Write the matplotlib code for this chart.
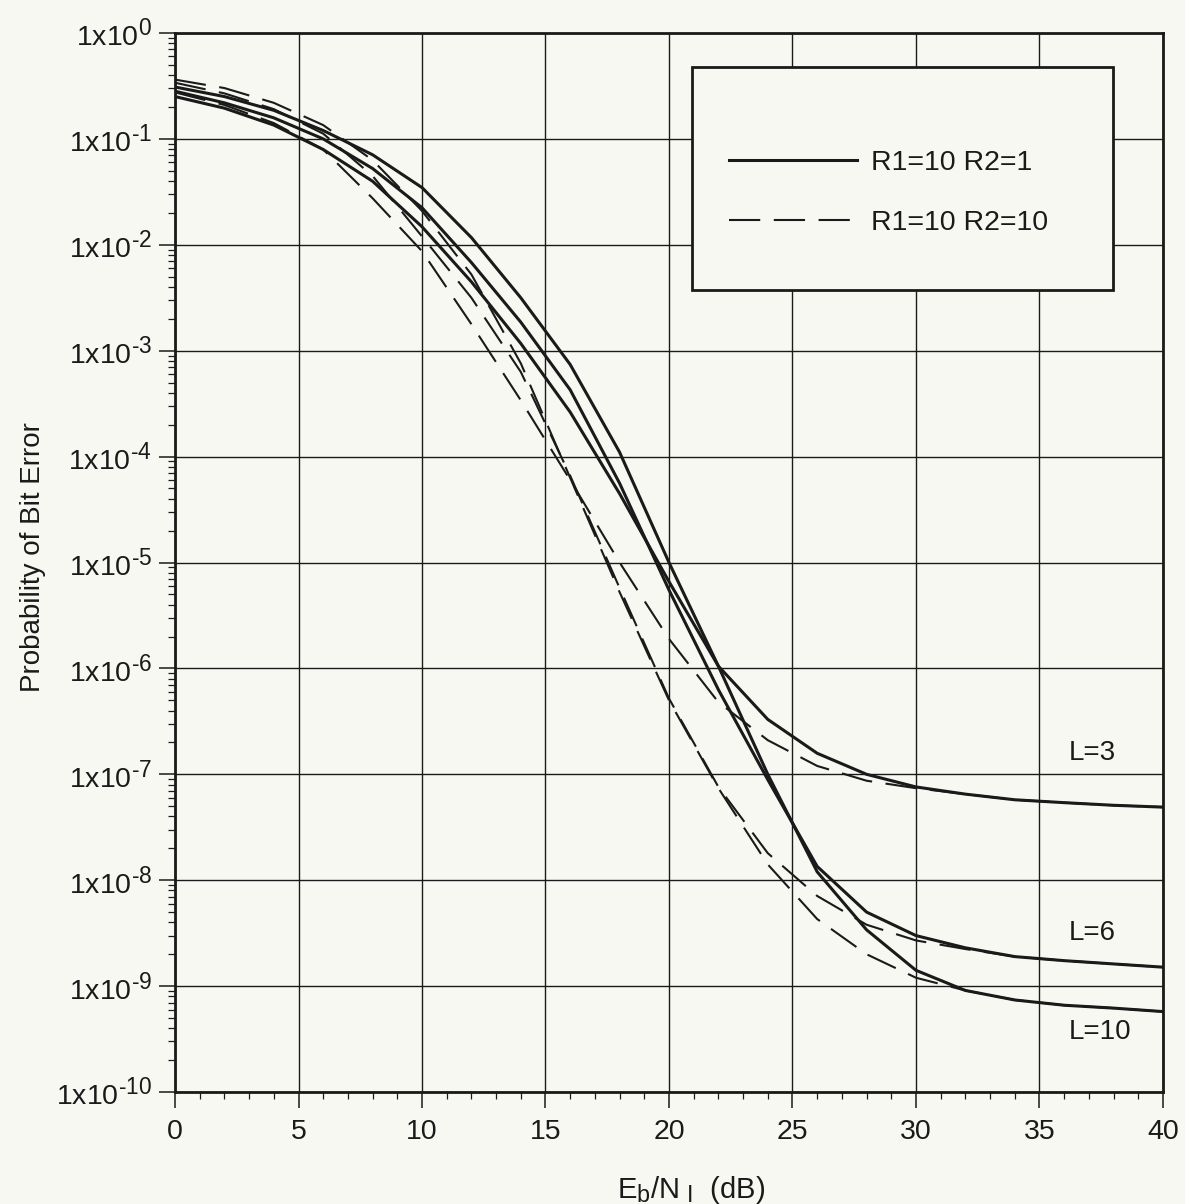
import matplotlib
matplotlib.use("Agg")
import matplotlib.pyplot as plt
import matplotlib._mathtext as mathtext_internals
from matplotlib.patches import Rectangle
from matplotlib.ticker import FixedLocator, LogLocator, NullFormatter, MultipleLocator

# superscripts in the original are only a little smaller than the base text
mathtext_internals.SHRINK_FACTOR = 0.8

plt.rcParams['font.family'] = ['Liberation Sans', 'DejaVu Sans']
plt.rcParams['mathtext.fontset'] = 'custom'
plt.rcParams['mathtext.rm'] = 'Liberation Sans'
plt.rcParams['mathtext.it'] = 'Liberation Sans:italic'

# Eb/NI (dB)
ebni = [0, 2, 4, 6, 8, 10, 12, 14, 16, 18, 20, 22, 24, 26, 28, 30, 32, 34, 36, 38, 40]

# R1=10 R2=1 (solid)
pb_l3_r1 = [0.251, 0.195, 0.135, 0.0794, 0.0398, 0.0148, 4.47e-3, 1.17e-3, 2.63e-4, 4.47e-5, 6.6e-6,
            1.05e-6, 3.3e-7, 1.58e-7, 1.0e-7, 7.6e-8, 6.5e-8, 5.75e-8, 5.4e-8, 5.1e-8, 4.9e-8]
pb_l6_r1 = [0.282, 0.219, 0.158, 0.100, 0.0525, 0.0224, 6.8e-3, 1.86e-3, 4.27e-4, 5.6e-5, 5.5e-6,
            6.3e-7, 8.9e-8, 1.35e-8, 5.0e-9, 3.0e-9, 2.3e-9, 1.9e-9, 1.74e-9, 1.62e-9, 1.51e-9]
pb_l10_r1 = [0.309, 0.251, 0.186, 0.120, 0.0708, 0.0347, 0.0117, 3.16e-3, 7.4e-4, 1.1e-4, 1.0e-5,
             1.05e-6, 1.0e-7, 1.2e-8, 3.4e-9, 1.41e-9, 9.1e-10, 7.4e-10, 6.6e-10, 6.2e-10, 5.75e-10]

# R1=10 R2=10 (dashed)
pb_l3_r10 = [0.275, 0.209, 0.141, 0.0794, 0.0275, 8.7e-3, 1.78e-3, 3.4e-4, 6.0e-5, 1.0e-5, 1.9e-6,
             4.8e-7, 2.1e-7, 1.2e-7, 8.7e-8, 7.4e-8, 6.5e-8, 5.75e-8, 5.4e-8, 5.1e-8, 4.9e-8]
pb_l6_r10 = [0.339, 0.269, 0.191, 0.112, 0.0447, 0.012, 3.16e-3, 6.3e-4, 6.6e-5, 5.75e-6, 5.2e-7,
             7.6e-8, 1.8e-8, 7.1e-9, 3.8e-9, 2.7e-9, 2.24e-9, 1.9e-9, 1.74e-9, 1.62e-9, 1.51e-9]
pb_l10_r10 = [0.363, 0.302, 0.219, 0.135, 0.063, 0.0209, 5.25e-3, 7.6e-4, 6.3e-5, 5.25e-6, 5.0e-7,
              7.4e-8, 1.41e-8, 4.3e-9, 2.0e-9, 1.2e-9, 9.1e-10, 7.4e-10, 6.6e-10, 6.2e-10, 5.75e-10]

series_labels = ['R1=10 R2=1', 'R1=10 R2=10']
curve_labels = ['L=3', 'L=6', 'L=10']
curve_label_pos = [(36.2, 1.6e-7), (36.2, 3.2e-9), (36.2, 3.7e-10)]

y_exponents = list(range(0, -11, -1))
x_ticks = [0, 5, 10, 15, 20, 25, 30, 35, 40]

bg = '#f8f8f3'
ink = '#1a1a1a'

fig = plt.figure(figsize=(11.85, 12.04), dpi=100, facecolor=bg)
ax = fig.add_axes([0.1477, 0.0930, 0.8337, 0.8796], facecolor=bg)

dash = (0, (15, 6.5))
for ys in (pb_l3_r1, pb_l6_r1, pb_l10_r1):
    ax.plot(ebni, ys, color=ink, lw=2.2, zorder=3)
for ys in (pb_l3_r10, pb_l6_r10, pb_l10_r10):
    ax.plot(ebni, ys, color=ink, lw=1.5, linestyle=dash, zorder=3)

ax.set_yscale('log')
ax.set_xlim(0, 40)
ax.set_ylim(1e-10, 1)


def exp_label(e):
    sup = '0' if e == 0 else '\u2010' + str(-e)
    return r'1x10$^{\mathregular{%s}}$' % sup


ax.xaxis.set_major_locator(FixedLocator(x_ticks))
ax.xaxis.set_minor_locator(MultipleLocator(1))
ax.yaxis.set_major_locator(FixedLocator([10.0 ** e for e in y_exponents]))
ax.yaxis.set_minor_locator(LogLocator(base=10, subs=range(2, 10), numticks=20))
ax.yaxis.set_minor_formatter(NullFormatter())
ax.set_yticklabels([exp_label(e) for e in y_exponents])
ax.set_xticklabels([str(v) for v in x_ticks])

ax.tick_params(which='major', direction='out', length=11.5, width=1.1, colors=ink,
               labelsize=20.5, top=False, right=False)
ax.tick_params(which='minor', direction='out', length=5, width=0.9, colors=ink,
               top=False, right=False)
ax.tick_params(axis='x', which='major', pad=8)
ax.tick_params(axis='y', which='major', pad=5)

ax.grid(True, which='major', color=ink, lw=1.0, zorder=1)
for s in ax.spines.values():
    s.set_linewidth(2.0)
    s.set_color(ink)
    s.set_zorder(4)

ax.set_ylabel('Probability of Bit Error', fontsize=20, color=ink)
ax.yaxis.set_label_coords(-0.131, 0.505)
ax.set_xlabel(r'E$_\mathregular{b}$/N$_\mathregular{\ I}$  (dB)', fontsize=21, color=ink)
ax.xaxis.set_label_coords(0.522, -0.077)

for txt, (xx, yy) in zip(curve_labels, curve_label_pos):
    ax.text(xx, yy, txt, fontsize=20, color=ink, ha='left', va='center', zorder=5)

# legend box
box = Rectangle((0.523, 0.757), 0.426, 0.211, transform=ax.transAxes,
                facecolor=bg, edgecolor=ink, lw=2.0, zorder=6)
ax.add_patch(box)
h1, = ax.plot([], [], color=ink, lw=2.2)
h2, = ax.plot([], [], color=ink, lw=1.5, linestyle=dash)
leg = ax.legend([h1, h2], series_labels, loc='center', bbox_to_anchor=(0.722, 0.849),
                frameon=False, fontsize=20.5, handlelength=4.5, handletextpad=0.5,
                labelspacing=1.2)
leg.set_zorder(7)
for t in leg.get_texts():
    t.set_color(ink)

fig.savefig('out.png', dpi=100, facecolor=bg)
